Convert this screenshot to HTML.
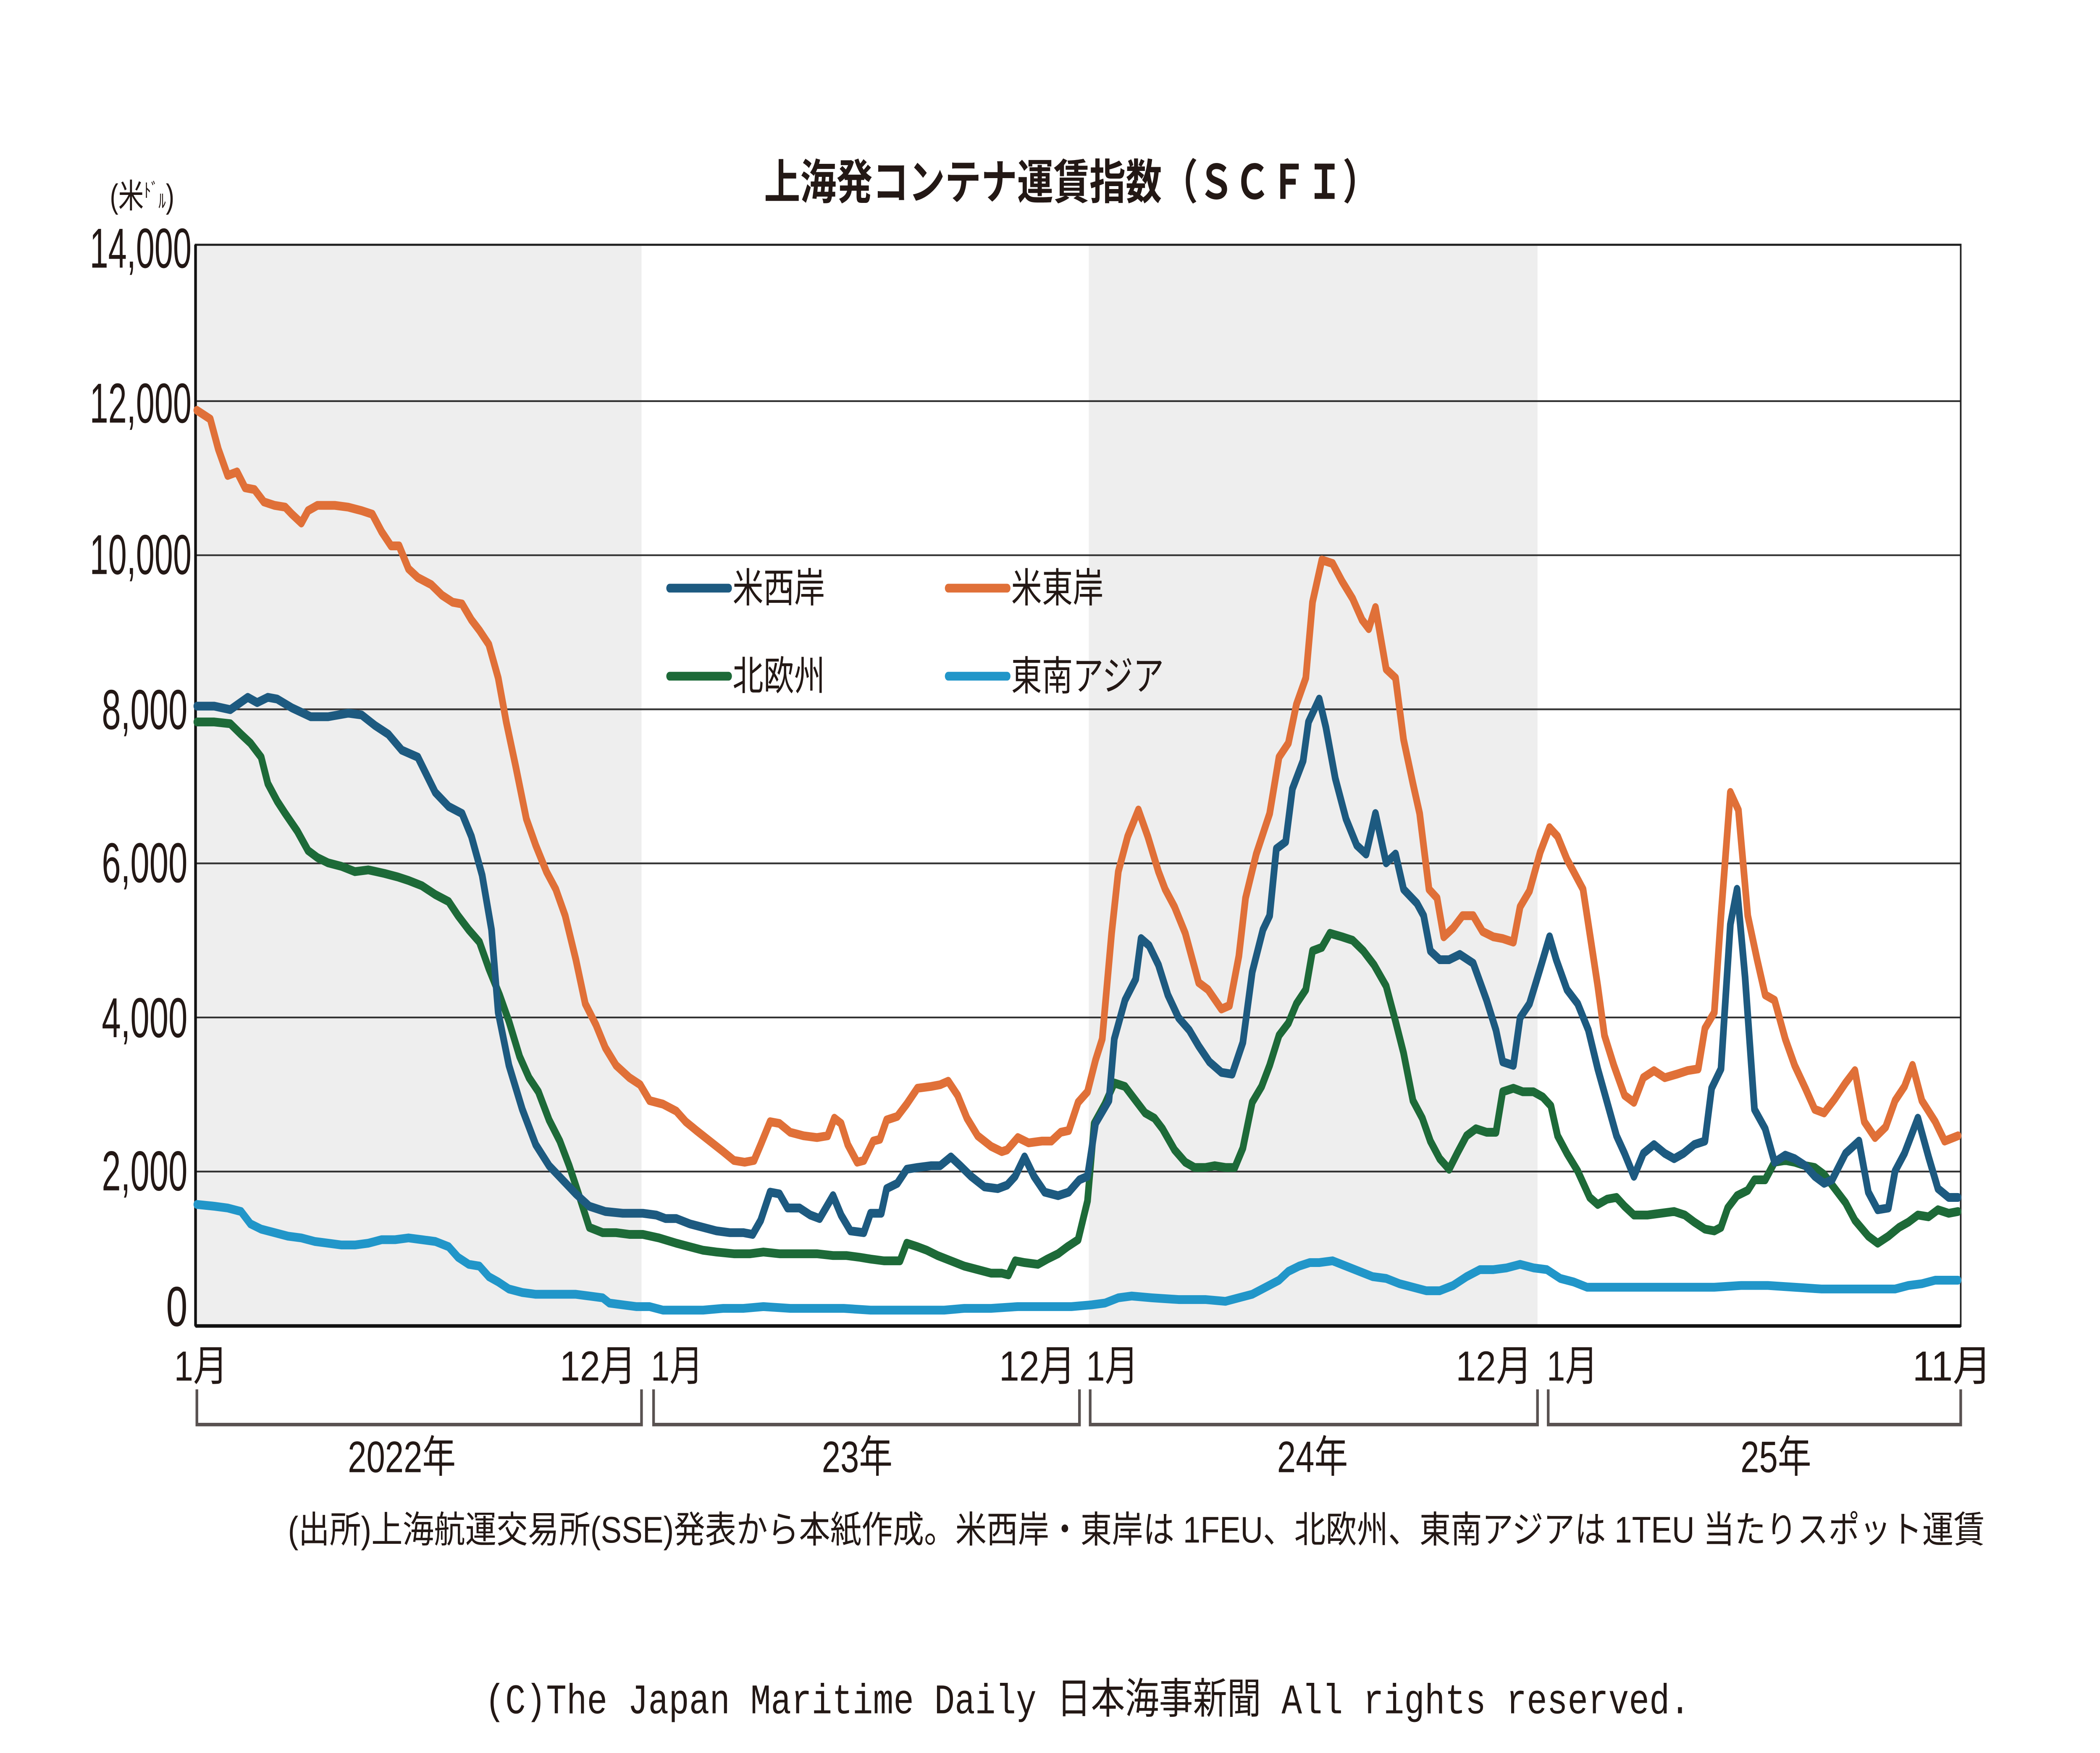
<!DOCTYPE html>
<html><head><meta charset="utf-8"><style>html,body{margin:0;padding:0;background:#fff;width:100%;height:100%;overflow:hidden}svg{display:block;position:fixed;left:0;top:0;width:100vw;height:100vh}</style></head>
<body>
<svg xmlns="http://www.w3.org/2000/svg" viewBox="0 0 1568 995.5" preserveAspectRatio="none">
<rect width="1568" height="995.5" fill="#fff"/>
<rect x="146" y="139" width="333" height="614" fill="#eeeeee"/>
<rect x="813" y="139" width="335" height="614" fill="#eeeeee"/>
<g stroke="#333" stroke-width="1">
<line x1="146" y1="227.8" x2="1464" y2="227.8"/>
<line x1="146" y1="315.3" x2="1464" y2="315.3"/>
<line x1="146" y1="402.8" x2="1464" y2="402.8"/>
<line x1="146" y1="490.3" x2="1464" y2="490.3"/>
<line x1="146" y1="577.8" x2="1464" y2="577.8"/>
<line x1="146" y1="665.3" x2="1464" y2="665.3"/>
</g>
<rect x="146" y="139" width="1318" height="614" fill="none" stroke="#222" stroke-width="1.2"/>
<line x1="146" y1="753" x2="1464" y2="753" stroke="#111" stroke-width="2"/>
<line x1="146" y1="139" x2="146" y2="753" stroke="#111" stroke-width="2"/>
<g font-family="Liberation Sans, sans-serif" fill="#231815" font-size="32" text-anchor="end">
<text x="143" y="152" textLength="76" lengthAdjust="spacingAndGlyphs">14,000</text>
<text x="143" y="240" textLength="76" lengthAdjust="spacingAndGlyphs">12,000</text>
<text x="143" y="326" textLength="76" lengthAdjust="spacingAndGlyphs">10,000</text>
<text x="140" y="414" textLength="64" lengthAdjust="spacingAndGlyphs">8,000</text>
<text x="140" y="501" textLength="64" lengthAdjust="spacingAndGlyphs">6,000</text>
<text x="140" y="589" textLength="64" lengthAdjust="spacingAndGlyphs">4,000</text>
<text x="140" y="676" textLength="64" lengthAdjust="spacingAndGlyphs">2,000</text>
<text x="140" y="753" textLength="16" lengthAdjust="spacingAndGlyphs">0</text>
</g>
<text x="82" y="118" font-family="Liberation Sans, Noto Sans CJK JP, sans-serif" font-size="19" fill="#231815">(米<tspan font-size="11" dy="-6">ﾄﾞ</tspan><tspan font-size="11" dy="6">ﾙ</tspan>)</text>
<text x="800" y="113" text-anchor="middle" font-family="Liberation Sans, Noto Sans CJK JP, sans-serif" font-weight="bold" font-size="27" fill="#231815">上海発コンテナ運賃指数（ＳＣＦＩ）</text>
<g fill="none" stroke-width="5" stroke-linejoin="round" stroke-linecap="round">
<polyline stroke="#2196c9" points="147,684 160,685 170,686 180,688 187,695 195,698 205,700 215,702 225,703 235,705 245,706 255,707 265,707 275,706 285,704 295,704 305,703 315,704 325,705 335,708 342,714 350,718 358,719 365,725 372,728 380,732 390,734 400,735 410,735 420,735 430,735 440,736 450,737 455,740 465,741 475,742 485,742 495,744 510,744 525,744 540,743 555,743 570,742 590,743 610,743 630,743 650,744 670,744 690,744 705,744 720,743 740,743 760,742 780,742 800,742 815,741 825,740 835,737 845,736 860,737 880,738 900,738 915,739 925,737 935,735 945,731 955,727 962,722 970,719 978,717 985,717 995,716 1005,719 1015,722 1025,725 1035,726 1045,729 1055,731 1065,733 1075,733 1085,730 1095,725 1105,721 1115,721 1125,720 1135,718 1145,720 1155,721 1165,726 1175,728 1185,731 1195,731 1210,731 1225,731 1240,731 1260,731 1280,731 1300,730 1320,730 1340,731 1360,732 1380,732 1400,732 1415,732 1425,730 1435,729 1445,727 1462,727"/>
<polyline stroke="#1d6a38" points="147,410 160,410 172,411 180,417 187,422 195,430 200,445 207,455 213,462 222,472 230,483 237,487 245,490 255,492 265,495 275,494 287,496 297,498 305,500 315,503 325,508 335,512 342,520 350,528 358,535 365,550 373,565 380,580 388,600 395,612 402,620 410,636 418,648 425,662 432,678 440,697 450,700 460,700 470,701 480,701 492,703 505,706 515,708 525,710 535,711 548,712 560,712 570,711 582,712 595,712 610,712 622,713 632,713 642,714 650,715 660,716 672,716 677,706 685,708 692,710 700,713 710,716 720,719 730,721 740,723 748,723 753,724 758,716 765,717 775,718 782,715 790,712 797,708 805,704 812,682 817,638 825,627 832,615 840,617 848,625 855,632 862,635 868,641 877,653 885,660 892,663 900,663 907,662 915,663 922,663 928,652 935,626 942,617 948,605 955,588 962,581 968,570 975,562 980,540 987,538 993,530 1002,532 1010,534 1018,540 1026,548 1035,560 1042,580 1048,598 1055,625 1062,635 1068,648 1075,658 1082,664 1088,655 1095,645 1102,641 1110,643 1117,643 1122,620 1130,618 1137,620 1145,620 1152,623 1158,628 1163,645 1170,655 1178,665 1187,680 1193,684 1200,681 1207,680 1213,685 1220,690 1230,690 1240,689 1250,688 1258,690 1265,694 1273,698 1280,699 1285,697 1290,686 1297,679 1305,676 1310,670 1318,670 1325,660 1333,659 1340,660 1348,662 1355,663 1362,667 1370,675 1378,683 1385,693 1395,702 1402,706 1410,702 1418,697 1425,694 1432,690 1440,691 1447,687 1455,689 1462,688"/>
<polyline stroke="#1d5a80" points="147,401 160,401 172,403 185,396 192,399 200,396 207,397 218,402 232,407 245,407 260,405 270,406 280,412 290,417 300,426 312,430 325,450 335,458 345,462 352,475 360,497 367,528 372,575 380,605 390,630 400,650 410,662 420,670 430,678 440,685 452,688 465,689 480,689 490,690 497,692 505,692 515,695 525,697 535,699 545,700 555,700 562,701 568,693 575,677 582,678 588,686 597,686 605,690 612,692 622,679 628,690 635,699 645,700 650,689 658,689 662,675 670,672 677,664 685,663 695,662 702,662 710,657 717,662 725,668 735,674 745,675 752,673 758,668 765,657 772,668 780,677 790,679 798,677 806,670 812,668 818,638 828,625 832,590 840,568 848,556 852,533 858,537 865,548 872,565 880,578 888,585 895,594 903,603 912,609 920,610 928,592 935,552 943,528 948,520 953,482 960,478 965,448 973,432 977,410 985,397 990,413 997,442 1005,465 1013,480 1020,485 1027,462 1035,490 1042,485 1048,505 1058,513 1063,520 1068,540 1075,545 1082,545 1090,542 1100,547 1110,568 1117,585 1122,603 1130,605 1135,578 1142,570 1150,550 1157,532 1162,545 1170,562 1178,570 1186,585 1193,607 1200,626 1207,645 1213,655 1220,668 1227,655 1235,650 1243,655 1250,658 1257,655 1265,650 1273,648 1278,618 1285,607 1292,525 1297,505 1303,555 1310,630 1318,641 1325,660 1333,656 1340,658 1348,662 1355,668 1362,672 1368,670 1378,655 1388,648 1395,677 1402,687 1410,686 1415,665 1422,655 1432,635 1440,657 1447,675 1455,680 1462,680"/>
<polyline stroke="#e07038" points="147,233 157,238 163,255 170,270 177,268 183,277 190,278 197,285 205,287 213,288 218,292 225,297 230,290 237,287 250,287 260,288 270,290 278,292 285,302 292,310 298,310 305,323 312,328 322,332 330,338 338,342 345,343 352,352 358,358 365,366 372,385 378,410 385,435 393,465 400,480 408,495 415,505 422,520 430,545 437,570 445,582 452,595 460,605 470,612 478,616 485,625 495,627 505,631 512,637 520,642 530,648 540,654 548,659 556,660 563,659 568,650 575,637 582,638 590,643 600,645 610,646 618,645 623,635 628,638 633,650 640,660 645,659 652,648 657,647 662,636 670,634 677,627 685,618 695,617 702,616 708,614 715,622 722,635 730,645 740,651 748,654 752,653 760,646 768,649 778,648 785,648 792,643 798,642 805,626 812,620 818,602 823,590 830,530 835,495 842,475 850,460 857,475 865,495 870,505 877,515 885,530 895,558 902,562 912,573 918,571 925,543 930,510 938,485 948,462 955,430 962,422 968,400 975,385 980,342 987,318 995,320 1002,330 1010,340 1017,352 1022,357 1027,345 1035,380 1042,385 1048,420 1055,445 1060,462 1067,505 1073,510 1078,532 1085,527 1092,520 1100,520 1107,529 1115,532 1122,533 1130,535 1135,515 1142,506 1150,484 1157,470 1163,475 1170,488 1175,495 1182,505 1187,530 1193,560 1198,588 1205,605 1213,622 1220,626 1227,612 1235,608 1243,612 1252,610 1260,608 1268,607 1273,584 1280,575 1285,520 1292,450 1298,460 1305,520 1312,545 1318,565 1325,568 1333,590 1340,605 1348,618 1355,630 1362,632 1370,624 1378,615 1385,608 1392,637 1400,646 1408,640 1415,625 1422,617 1428,605 1435,625 1445,637 1452,648 1462,645"/>
</g>
<g stroke-width="5" stroke-linecap="round">
<line x1="500" y1="334" x2="544" y2="334" stroke="#1d5a80"/>
<line x1="708" y1="334" x2="752" y2="334" stroke="#e07038"/>
<line x1="500" y1="384" x2="544" y2="384" stroke="#1d6a38"/>
<line x1="708" y1="384" x2="752" y2="384" stroke="#2196c9"/>
</g>
<g font-family="Liberation Sans, Noto Sans CJK JP, sans-serif" font-size="23" fill="#231815">
<text x="547" y="342">米西岸</text>
<text x="755" y="342">米東岸</text>
<text x="547" y="392">北欧州</text>
<text x="755" y="392">東南アジア</text>
</g>
<g font-family="Liberation Sans, Noto Sans CJK JP, sans-serif" font-size="24" fill="#231815">
<text x="130" y="784" textLength="40" lengthAdjust="spacingAndGlyphs">1月</text>
<text x="418" y="784" textLength="57" lengthAdjust="spacingAndGlyphs">12月</text>
<text x="486" y="784" textLength="39" lengthAdjust="spacingAndGlyphs">1月</text>
<text x="746" y="784" textLength="57" lengthAdjust="spacingAndGlyphs">12月</text>
<text x="811" y="784" textLength="39" lengthAdjust="spacingAndGlyphs">1月</text>
<text x="1087" y="784" textLength="57" lengthAdjust="spacingAndGlyphs">12月</text>
<text x="1155" y="784" textLength="38" lengthAdjust="spacingAndGlyphs">1月</text>
<text x="1428" y="784" textLength="59" lengthAdjust="spacingAndGlyphs">11月</text>
</g>
<g fill="none" stroke="#595251" stroke-width="2">
<polyline points="147,789 147,809 479,809 479,789"/>
<polyline points="488,789 488,809 806,809 806,789"/>
<polyline points="814,789 814,809 1148,809 1148,789"/>
<polyline points="1156,789 1156,809 1464,809 1464,789"/>
</g>
<g font-family="Liberation Sans, Noto Sans CJK JP, sans-serif" font-size="25" fill="#231815" text-anchor="middle">
<text x="300" y="836">2022年</text>
<text x="640" y="836">23年</text>
<text x="980" y="836">24年</text>
<text x="1326" y="836">25年</text>
</g>
<text x="215" y="876" font-family="Liberation Sans, Noto Sans CJK JP, sans-serif" font-size="21" fill="#231815" textLength="1267" lengthAdjust="spacingAndGlyphs">(出所)上海航運交易所(SSE)発表から本紙作成。米西岸・東岸は 1FEU、北欧州、東南アジアは 1TEU 当たりスポット運賃</text>
<text x="362" y="973" font-family="Liberation Mono, Noto Sans CJK JP, monospace" font-size="24" fill="#231815" textLength="900" lengthAdjust="spacingAndGlyphs">(C)The Japan Maritime Daily 日本海事新聞 All rights reserved.</text>
</svg>
</body></html>
